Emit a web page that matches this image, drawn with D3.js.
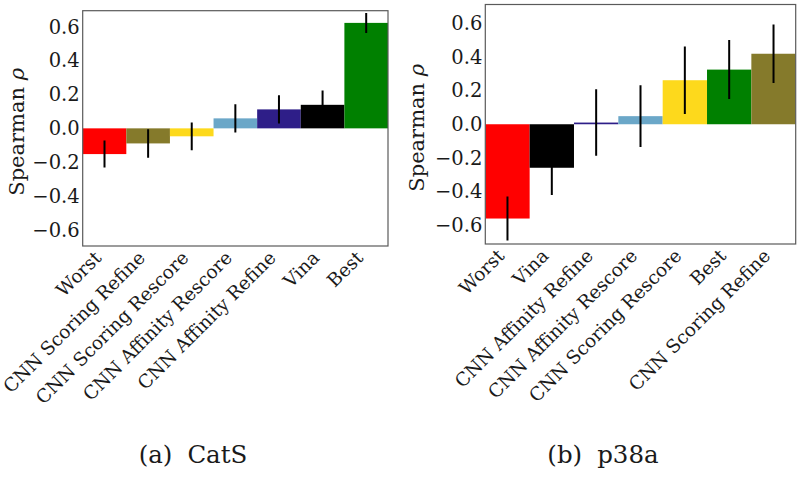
<!DOCTYPE html>
<html>
<head>
<meta charset="utf-8">
<script src="https://cdn.jsdelivr.net/npm/d3@7"></script>
<style>
  html, body { margin: 0; padding: 0; background: #fff; }
  svg { display: block; }
  text { font-family: "DejaVu Serif", serif; fill: #1a1a1a; }
</style>
</head>
<body>
<svg id="chart" width="800" height="477"></svg>
<script>
// ---- Data ----
const catsCategories = ["Worst", "CNN Scoring Refine", "CNN Scoring Rescore", "CNN Affinity Rescore", "CNN Affinity Refine", "Vina", "Best"];
const catsValues = [-0.152, -0.089, -0.047, 0.059, 0.112, 0.139, 0.623];
const catsErrors = [0.080, 0.084, 0.082, 0.084, 0.084, 0.084, 0.059];

const p38Categories = ["Worst", "Vina", "CNN Affinity Refine", "CNN Affinity Rescore", "CNN Scoring Rescore", "Best", "CNN Scoring Refine"];
const p38Values = [-0.559, -0.258, 0.010, 0.048, 0.261, 0.324, 0.418];
const p38Errors = [0.130, 0.162, 0.197, 0.183, 0.200, 0.175, 0.174];

const yTicks = [-0.6, -0.4, -0.2, 0.0, 0.2, 0.4, 0.6];
const catsYLim = [-0.695, 0.695];
const p38YLim = [-0.71, 0.71];

const colorNames = ["Worst", "CNN Scoring Refine", "CNN Scoring Rescore", "CNN Affinity Rescore", "CNN Affinity Refine", "Vina", "Best"];
const colorValues = ["#ff0000", "#857a2b", "#fdd91c", "#6ba7c8", "#2e1e88", "#000000", "#008000"];

const titles = ["(a)", "CatS", "(b)", "p38a"];

// ---- Drawing ----
const svg = d3.select("#chart");
const color = d3.scaleOrdinal().domain(colorNames).range(colorValues);
const fmt = v => (v < 0 ? "\u2212" : "") + Math.abs(v).toFixed(1);

function panel(cfg) {
  const { left, right, top, bottom, cats, vals, errs, ylim, labelX, titleX, t1, t2 } = cfg;
  const g = svg.append("g");
  const x = d3.scaleBand().domain(cats).range([left, right]).padding(0);
  const y = d3.scaleLinear().domain(ylim).range([bottom, top]);

  const data = cats.map((c, i) => ({ c, v: vals[i], e: errs[i] }));

  const clipId = "clip" + Math.round(left);
  svg.append("clipPath").attr("id", clipId)
    .append("rect").attr("x", left).attr("y", top).attr("width", right - left).attr("height", bottom - top);

  const plot = g.append("g").attr("clip-path", `url(#${clipId})`);
  plot.selectAll("rect.bar").data(data).enter().append("rect")
    .attr("class", "bar")
    .attr("x", d => x(d.c))
    .attr("width", x.bandwidth())
    .attr("y", d => y(Math.max(0, d.v)))
    .attr("height", d => Math.abs(y(d.v) - y(0)))
    .attr("fill", d => color(d.c));

  plot.selectAll("line.err").data(data).enter().append("line")
    .attr("class", "err")
    .attr("x1", d => x(d.c) + x.bandwidth() / 2)
    .attr("x2", d => x(d.c) + x.bandwidth() / 2)
    .attr("y1", d => y(d.v - d.e))
    .attr("y2", d => y(d.v + d.e))
    .attr("stroke", "#000")
    .attr("stroke-width", 2);

  // frame
  g.append("rect")
    .attr("x", left).attr("y", top)
    .attr("width", right - left).attr("height", bottom - top)
    .attr("fill", "none").attr("stroke", "#5a5a5a").attr("stroke-width", 1.2);

  // y axis
  const ya = g.append("g").attr("transform", `translate(${left},0)`)
    .call(d3.axisLeft(y).tickValues(yTicks).tickFormat(fmt).tickSize(0).tickPadding(3));
  ya.select(".domain").remove();
  ya.selectAll("text").attr("font-size", 19.5).attr("fill", "#222")
    .style("font-family", '"DejaVu Serif", serif');

  // x axis
  const xa = g.append("g").attr("transform", `translate(0,${bottom})`)
    .call(d3.axisBottom(x).tickSize(0).tickPadding(0));
  xa.select(".domain").remove();
  xa.selectAll(".tick text")
    .attr("font-size", 18.5).attr("fill", "#222")
    .style("font-family", '"DejaVu Serif", serif')
    .attr("text-anchor", "end")
    .attr("dy", null)
    .attr("y", 0)
    .attr("transform", "translate(-2,13) rotate(-45)");

  // y label
  const yl = g.append("text")
    .attr("transform", `translate(${labelX},${(top + bottom) / 2 + 3.5}) rotate(-90)`)
    .attr("text-anchor", "middle")
    .attr("dominant-baseline", "central")
    .attr("font-size", 21)
    .attr("fill", "#222");
  yl.append("tspan").text("Spearman ");
  yl.append("tspan").attr("font-style", "italic").text("\u03C1");

  // subcaption
  const tt = g.append("text")
    .attr("x", titleX).attr("y", 463)
    .attr("text-anchor", "middle")
    .attr("font-size", 24.5)
    .attr("fill", "#111");
  tt.append("tspan").text(t1);
  tt.append("tspan").attr("dx", 15).text(t2);
}

panel({
  left: 82.7, right: 388, top: 10.7, bottom: 246,
  cats: catsCategories, vals: catsValues, errs: catsErrors, ylim: catsYLim,
  labelX: 17, titleX: 193, t1: titles[0], t2: titles[1]
});
panel({
  left: 485.3, right: 795.7, top: 4.5, bottom: 244,
  cats: p38Categories, vals: p38Values, errs: p38Errors, ylim: p38YLim,
  labelX: 417, titleX: 603, t1: titles[2], t2: titles[3]
});
</script>
</body>
</html>
